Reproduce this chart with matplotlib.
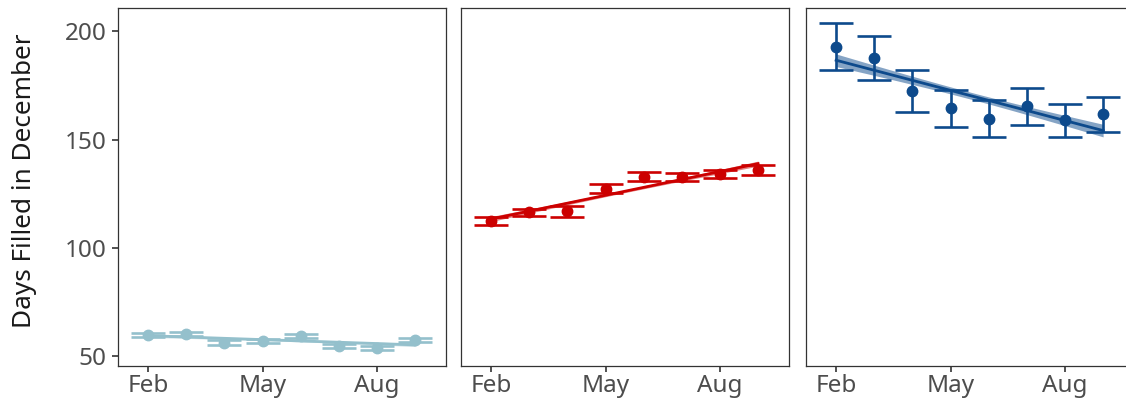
import numpy as np
import matplotlib
matplotlib.use("Agg")
import matplotlib.pyplot as plt

plt.rcParams["font.family"] = ["Noto Sans", "DejaVu Sans"]

months = [2, 3, 4, 5, 6, 7, 8, 9]
tick_months = [2, 5, 8]
tick_labels = ["Feb", "May", "Aug"]

p1_mean = [60.0, 60.3, 56.4, 57.1, 59.5, 54.9, 53.8, 57.7]
p1_err = [1.0, 1.0, 1.0, 0.9, 1.0, 1.0, 1.0, 1.0]
p2_mean = [112.5, 116.4, 117.0, 127.4, 132.9, 132.9, 134.3, 135.9]
p2_err = [2.0, 1.8, 2.6, 2.2, 2.0, 1.8, 1.8, 2.4]
p3_mean = [192.9, 187.8, 172.4, 164.4, 159.7, 165.4, 158.9, 161.6]
p3_err = [10.8, 10.2, 9.7, 8.7, 8.7, 8.5, 7.6, 7.9]

band_scale = [1.2, 1.8, 4.5]
colors = ["#94c0cc", "#cc0000", "#0d4a8c"]
series = [(p1_mean, p1_err), (p2_mean, p2_err), (p3_mean, p3_err)]

W, H = 1126, 405
fig = plt.figure(figsize=(W / 100, H / 100), dpi=100)
lefts = [118, 461, 806]
pw = 328
bottom_px, top_px = 366, 8

for i, ((m, e), col, k) in enumerate(zip(series, colors, band_scale)):
    ax = fig.add_axes([lefts[i] / W, 1 - bottom_px / H, pw / W, (bottom_px - top_px) / H])
    x = np.array(months, dtype=float)
    y = np.array(m)
    slope, icpt = np.polyfit(x, y, 1)
    xf = np.linspace(x.min(), x.max(), 100)
    yf = icpt + slope * xf
    hw = k * np.sqrt(1 / len(x) + (xf - x.mean()) ** 2 / np.sum((x - x.mean()) ** 2))
    ax.fill_between(xf, yf - hw, yf + hw, color=col, alpha=0.5, lw=0, zorder=2)
    ax.plot(xf, yf, color=col, lw=2.0, zorder=3)
    ax.errorbar(x, y, yerr=e, fmt="o", color=col, ms=7.5, capsize=12.5, capthick=1.9,
                elinewidth=1.9, zorder=4)
    ax.set_xlim(1.21, 9.81)
    ax.set_ylim(45.6, 210.7)
    ax.set_xticks(tick_months)
    ax.set_xticklabels(tick_labels)
    for s in ax.spines.values():
        s.set_color("#333333")
        s.set_linewidth(0.9)
    ax.tick_params(axis="x", length=4.3, width=1.2, color="#333333", labelsize=17.5,
                   labelcolor="#4d4d4d", pad=1.5)
    if i == 0:
        ax.set_yticks([50, 100, 150, 200])
        ax.tick_params(axis="y", length=4.3, width=1.2, color="#333333", labelsize=17.5,
                       labelcolor="#4d4d4d", pad=4)
    else:
        ax.set_yticks([])

fig.text(25 / W, 1 - 181 / H, "Days Filled in December", rotation=90, fontsize=18.8,
         color="#1a1a1a", ha="center", va="center")

fig.savefig("out.png", dpi=100)
